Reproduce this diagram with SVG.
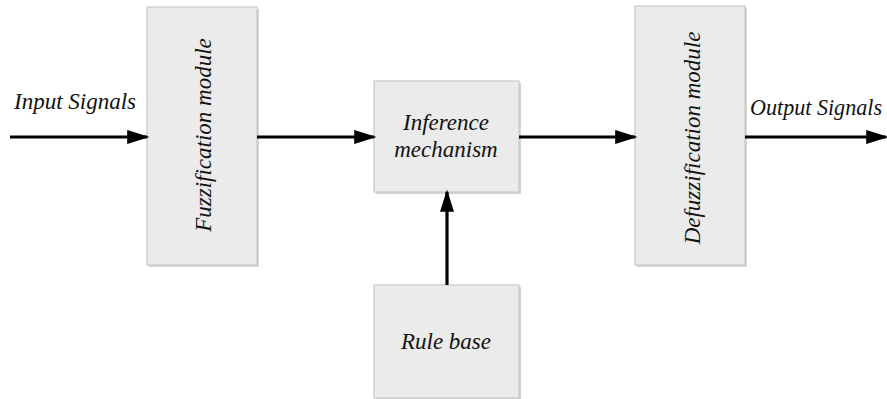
<svg xmlns="http://www.w3.org/2000/svg" width="887" height="399" viewBox="0 0 887 399">
<style>
.box{fill:#ebebeb;stroke:#c9c9c9;stroke-width:1.2}
.sh{fill:#d4d4d4}
.t{font-family:"Liberation Serif","Times New Roman",serif;font-style:italic;font-size:23px;fill:#111}
.c{stroke:#000;stroke-width:3.2;fill:none;marker-end:url(#ah)}
</style>
<defs>
<marker id="ah" markerWidth="7" markerHeight="4.4" refX="6.2" refY="2.2" orient="auto" markerUnits="strokeWidth">
<path d="M0,0 L7,2.2 L0,4.4 Z" fill="#000"/>
</marker>
</defs>
<g id="fuzzification">
<rect class="sh" x="149" y="9" width="110" height="258"/>
<rect class="box" x="147" y="7" width="110" height="258"/>
<text class="t" transform="translate(211,135) rotate(-90)" text-anchor="middle">Fuzzification module</text>
</g>
<g id="inference">
<rect class="sh" x="376" y="83" width="145" height="111"/>
<rect class="box" x="374" y="81" width="145" height="111"/>
<text class="t" x="446" y="130" text-anchor="middle">Inference</text>
<text class="t" x="446" y="157" text-anchor="middle">mechanism</text>
</g>
<g id="defuzzification">
<rect class="sh" x="637" y="8" width="110" height="259"/>
<rect class="box" x="635" y="6" width="110" height="259"/>
<text class="t" transform="translate(700,138) rotate(-90)" text-anchor="middle">Defuzzification module</text>
</g>
<g id="rulebase">
<rect class="sh" x="376" y="287" width="145" height="113"/>
<rect class="box" x="374" y="285" width="145" height="113"/>
<text class="t" x="446" y="349" text-anchor="middle">Rule base</text>
</g>
<g id="labels">
<text class="t" x="14" y="109">Input Signals</text>
<text class="t" x="750" y="115" textLength="132" lengthAdjust="spacingAndGlyphs">Output Signals</text>
</g>
<g id="connectors">
<line class="c" x1="10" y1="137" x2="147" y2="137"/>
<line class="c" x1="257" y1="137" x2="374" y2="137"/>
<line class="c" x1="519" y1="137" x2="635" y2="137"/>
<line class="c" x1="745" y1="137" x2="886" y2="137"/>
<line class="c" x1="447" y1="285" x2="447" y2="192"/>
</g>
</svg>
